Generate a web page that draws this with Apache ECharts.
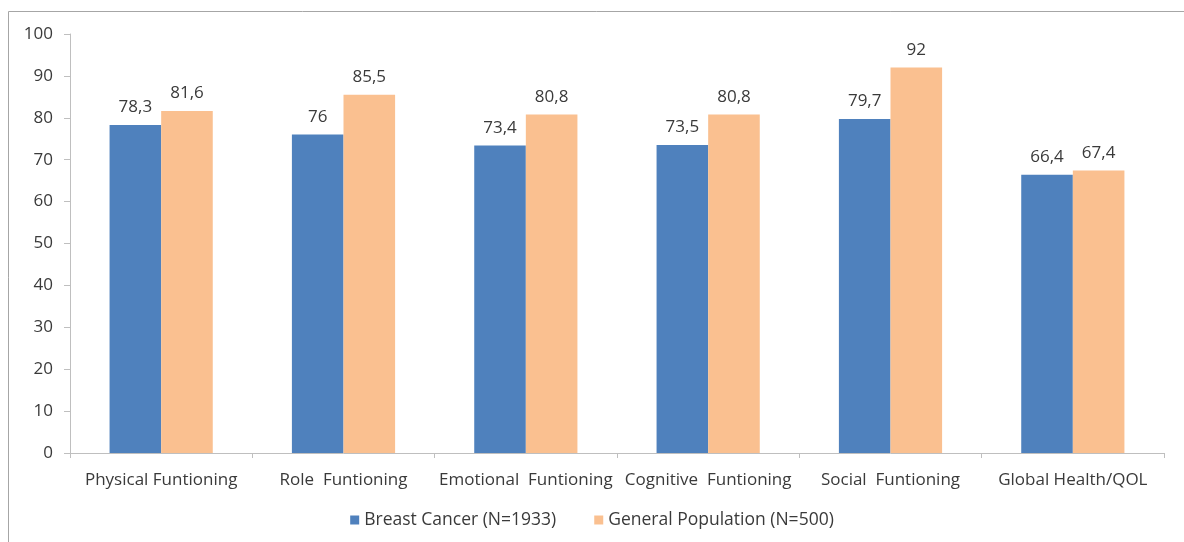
<!DOCTYPE html>
<html>
<head>
<meta charset="utf-8">
<style>
  html, body { margin: 0; padding: 0; background: #fff; }
  #chart { width: 1184px; height: 542px; }
</style>
<script src="https://cdn.jsdelivr.net/npm/echarts@6/dist/echarts.min.js"></script>
</head>
<body>
<div id="chart"></div>
<script>
// QLQ-C30 functioning scale means by group
const categories = [
  'Physical Funtioning',
  'Role  Funtioning',
  'Emotional  Funtioning',
  'Cognitive  Funtioning',
  'Social  Funtioning',
  'Global Health/QOL'
];
const breastCancer = [78.3, 76, 73.4, 73.5, 79.7, 66.4];
const generalPopulation = [81.6, 85.5, 80.8, 80.8, 92, 67.4];
const seriesNames = ['Breast Cancer (N=1933)', 'General Population (N=500)'];

const FONT = '"Open Sans", "Noto Sans", sans-serif';
const TEXT = '#3A3A3A';
const AXIS = '#BFBFBF';

const decimalComma = p => String(p.value).replace('.', ',');

const chart = echarts.init(document.getElementById('chart'), null, { renderer: 'canvas' });

const labelStyle = {
  show: true,
  position: 'top',
  distance: 9,
  color: TEXT,
  fontFamily: FONT,
  fontSize: 17,
  formatter: decimalComma
};

chart.setOption({
  animation: false,
  backgroundColor: '#fff',
  graphic: [{
    type: 'rect',
    shape: { x: 8.5, y: 11.5, width: 1200, height: 600 },
    style: { fill: 'none', stroke: '#A6A6A6', lineWidth: 1 },
    silent: true
  }],
  grid: { left: 70, right: 20, top: 34, bottom: 89, containLabel: false },
  legend: {
    bottom: 8,
    left: 'center',
    itemWidth: 9,
    itemHeight: 9,
    itemGap: 38,
    icon: 'rect',
    textStyle: { color: TEXT, fontFamily: FONT, fontSize: 17.5 },
    data: seriesNames
  },
  xAxis: {
    type: 'category',
    data: categories,
    axisLine: { lineStyle: { color: AXIS, width: 1 } },
    axisTick: { show: true, length: 5, alignWithLabel: false, lineStyle: { color: AXIS } },
    axisLabel: { color: TEXT, fontFamily: FONT, fontSize: 17, margin: 19, interval: 0 },
    splitLine: { show: false }
  },
  yAxis: {
    type: 'value',
    min: 0,
    max: 100,
    interval: 10,
    axisLine: { show: true, lineStyle: { color: AXIS, width: 1 } },
    axisTick: { show: true, length: 6, inside: false, lineStyle: { color: AXIS } },
    axisLabel: { color: TEXT, fontFamily: FONT, fontSize: 17, margin: 17 },
    splitLine: { show: false }
  },
  series: [
    {
      name: seriesNames[0],
      type: 'bar',
      data: breastCancer,
      barWidth: '28.3%',
      barGap: '0%',
      itemStyle: { color: '#4F81BD' },
      label: labelStyle
    },
    {
      name: seriesNames[1],
      type: 'bar',
      data: generalPopulation,
      barWidth: '28.3%',
      barGap: '0%',
      itemStyle: { color: '#FAC090' },
      label: labelStyle
    }
  ]
});
</script>
</body>
</html>
